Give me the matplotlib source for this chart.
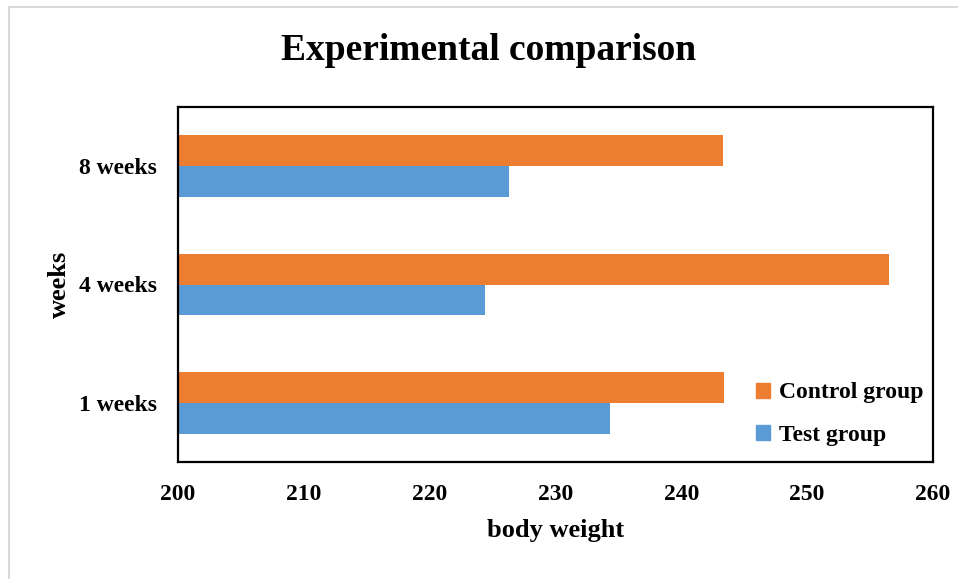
import matplotlib
matplotlib.use("Agg")
import matplotlib.pyplot as plt
import numpy as np
from matplotlib.lines import Line2D
from matplotlib.patches import Patch

categories = ["1 weeks", "4 weeks", "8 weeks"]
control = [243.4, 256.5, 243.3]
test = [234.3, 224.4, 226.3]
xticks = [200, 210, 220, 230, 240, 250, 260]

plt.rcParams['font.family'] = ['Liberation Serif', 'DejaVu Serif']
plt.rcParams['font.weight'] = 'bold'

W, H = 958, 579
fig = plt.figure(figsize=(W / 100, H / 100), dpi=100)
ax = fig.add_axes([178 / W, 1 - 462 / H, (933 - 178) / W, (462 - 107) / H])

y = np.arange(len(categories))
h = 0.26
ax.barh(y + h / 2, [c - 200 for c in control], left=200, height=h, color="#ED7D31", label="Control group")
ax.barh(y - h / 2, [t - 200 for t in test], left=200, height=h, color="#5B9BD5", label="Test group")

ax.set_xlim(200, 260)
ax.set_ylim(-0.5, 2.5)
ax.set_xticks(xticks)
ax.set_xticklabels([str(v) for v in xticks], fontsize=17, fontweight='bold')
ax.set_yticks(y)
ax.set_yticklabels(categories, fontsize=17, fontweight='bold')
ax.tick_params(axis='both', length=0)
ax.tick_params(axis='x', pad=16)
ax.tick_params(axis='y', pad=15)
for s in ax.spines.values():
    s.set_linewidth(1.6)
    s.set_color('black')

ax.set_xlabel("body weight", fontsize=19, fontweight='bold', labelpad=10)
ax.set_ylabel("weeks", fontsize=19, fontweight='bold', labelpad=6)

fig.text(489 / W, 1 - 50 / H, "Experimental comparison", fontsize=27, fontweight='bold',
         ha='center', va='center')

handles = [Patch(color="#ED7D31"), Patch(color="#5B9BD5")]
leg = ax.legend(handles, ["Control group", "Test group"], loc='lower right',
                bbox_to_anchor=(1.016, -0.014), frameon=False, fontsize=17,
                handlelength=0.6, handleheight=0.6, handletextpad=0.4, labelspacing=0.9)

# outer light gray border (top and left)
fig.add_artist(Line2D([9 / W, 1], [1 - 7 / H, 1 - 7 / H], color="#d9d9d9", lw=1.5, transform=fig.transFigure))
fig.add_artist(Line2D([9 / W, 9 / W], [0, 1 - 7 / H], color="#d9d9d9", lw=1.5, transform=fig.transFigure))

fig.savefig("out.png", dpi=100, facecolor='white')
